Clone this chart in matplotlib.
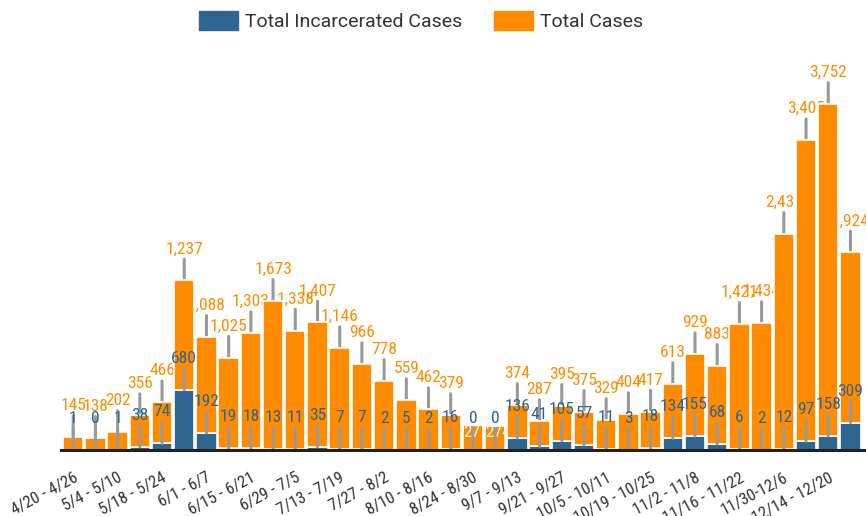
import matplotlib
matplotlib.use('Agg')
import matplotlib.pyplot as plt
from matplotlib.patches import Patch

weeks = [
    "4/20 - 4/26", "4/27 - 5/3", "5/4 - 5/10", "5/11 - 5/17", "5/18 - 5/24",
    "5/25 - 5/31", "6/1 - 6/7", "6/8 - 6/14", "6/15 - 6/21", "6/22 - 6/28",
    "6/29 - 7/5", "7/6 - 7/12", "7/13 - 7/19", "7/20 - 7/26", "7/27 - 8/2",
    "8/3 - 8/9", "8/10 - 8/16", "8/17 - 8/23", "8/24 - 8/30", "8/31 - 9/6",
    "9/7 - 9/13", "9/14 - 9/20", "9/21 - 9/27", "9/28 - 10/4", "10/5 - 10/11",
    "10/12 - 10/18", "10/19 - 10/25", "10/26 - 11/1", "11/2 - 11/8", "11/9 - 11/15",
    "11/16 - 11/22", "11/23 - 11/29", "11/30-12/6", "12/7 - 12/13", "12/14 - 12/20",
    "12/21 - 12/27",
]
incarcerated = [1, 0, 1, 38, 74, 680, 192, 19, 18, 13, 11, 35, 7, 7, 2, 5, 2, 16,
                0, 0, 136, 41, 105, 57, 11, 3, 18, 134, 155, 68, 6, 2, 12, 97, 158, 309]
total_cases = [145, 138, 202, 356, 466, 1237, 1088, 1025, 1303, 1673, 1338, 1407,
               1146, 966, 778, 559, 462, 379, 277, 274, 374, 287, 395, 375, 329,
               404, 417, 613, 929, 883, 1421, 1434, 2431, 3405, 3752, 1924]
inside_total_labels = ["8/24 - 8/30", "8/31 - 9/6"]

BLUE = '#2E6591'
ORANGE = '#FF8C00'
GRAY = '#999999'
TEXT = '#333333'
NARROW = ['Roboto Condensed', 'Liberation Sans Narrow', 'Roboto']
BAR_W = 0.92

plt.rcParams['font.family'] = ['Roboto', 'DejaVu Sans']

fig = plt.figure(figsize=(8.66, 5.16), dpi=100)
ax = fig.add_axes([61 / 866, 66 / 516, 1 - 61 / 866, 390 / 516])

xs = list(range(len(weeks)))
blue_bars = ax.bar(xs, incarcerated, width=BAR_W, color=BLUE, edgecolor='white',
                   linewidth=1.2, zorder=2)
orange_bars = ax.bar(xs, total_cases, bottom=incarcerated, width=BAR_W, color=ORANGE,
                     edgecolor='white', linewidth=1.2, zorder=2)

OFF = 24 * 72 / 100
LABEL_SIZE = 12.5
line_props = dict(arrowstyle='-', color=GRAY, lw=2.2, shrinkA=0, shrinkB=0,
                  relpos=(0.5, 0.0))
for i, (b, t) in enumerate(zip(incarcerated, total_cases)):
    top = b + t
    if weeks[i] in inside_total_labels:
        txt = ax.annotate(f'{t:,}', xy=(i - BAR_W / 2, top), xytext=(0.5, 0.5),
                          textcoords='offset points', ha='left', va='top',
                          color='white', fontsize=LABEL_SIZE, family=NARROW, zorder=3)
        txt.set_clip_path(orange_bars[i])
    else:
        ax.annotate(f'{t:,}', xy=(i, top), xytext=(0, OFF), textcoords='offset points',
                    ha='center', va='bottom', color=ORANGE, fontsize=LABEL_SIZE,
                    family=NARROW, zorder=1, arrowprops=line_props)
    ax.annotate(f'{b:,}', xy=(i, b), xytext=(0, OFF), textcoords='offset points',
                ha='center', va='bottom', color=BLUE, fontsize=LABEL_SIZE,
                family=NARROW, zorder=4, arrowprops=line_props)

ax.set_xlim(-0.55, 35.7)
ax.set_ylim(0, 4407)
ax.set_yticks([])
for s in ['top', 'right', 'left']:
    ax.spines[s].set_visible(False)
ax.spines['bottom'].set_color('#222222')
ax.spines['bottom'].set_linewidth(2.2)
ax.spines['bottom'].set_zorder(5)

ax.set_xticks(xs[::2])
ax.set_xticklabels(weeks[::2], rotation=28, ha='right', va='top', rotation_mode='anchor',
                   fontsize=12, color=TEXT, family=NARROW)
ax.tick_params(axis='x', length=0, pad=14.5)

fig.legend(handles=[Patch(color=BLUE, label='Total Incarcerated Cases'),
                    Patch(color=ORANGE, label='Total Cases')],
           loc='center', bbox_to_anchor=(421 / 866, 1 - 21 / 516), ncol=2,
           frameon=False, fontsize=14, handlelength=2.0, handleheight=1.13,
           handletextpad=0.36, columnspacing=1.65, labelcolor=TEXT)

fig.savefig('out.png', dpi=100)
